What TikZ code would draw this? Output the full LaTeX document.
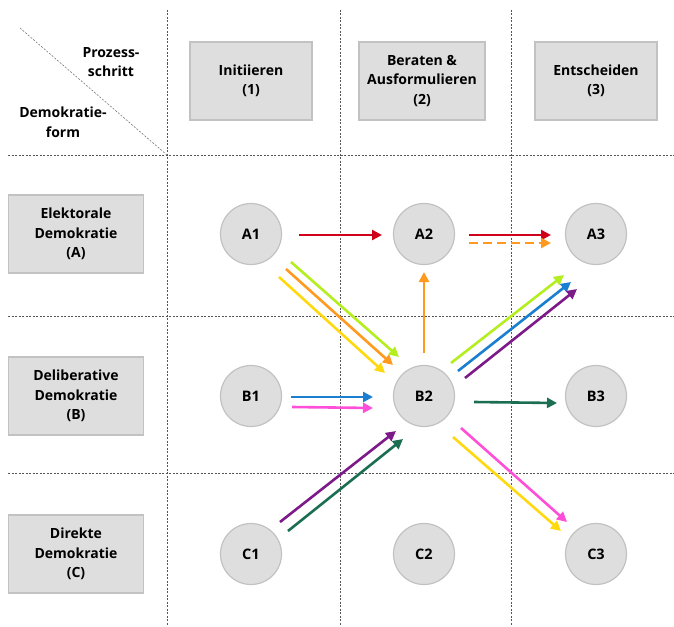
\documentclass[tikz,border=0pt]{standalone}
\usepackage{fontspec}
\setmainfont{Open Sans}
\usepackage{tikz}
\usetikzlibrary{positioning,arrows.meta,calc}
\definecolor{boxgray}{HTML}{DEDEDE}
\definecolor{edgegray}{HTML}{C2C2C2}
\definecolor{gridgray}{HTML}{555555}
\definecolor{flowred}{HTML}{D0021B}
\definecolor{floworange}{HTML}{FF9A1F}
\definecolor{flowlime}{HTML}{B4EE1F}
\definecolor{flowyellow}{HTML}{FFD90F}
\definecolor{flowblue}{HTML}{1A7FD0}
\definecolor{flowpurple}{HTML}{7D1A8A}
\definecolor{flowpink}{HTML}{FF4FD8}
\definecolor{flowgreen}{HTML}{1B6E52}
\tikzset{
  gridline/.style={gridgray, line width=0.6pt, dash pattern=on 2pt off 1.5pt},
  stagebox/.style={draw=edgegray, fill=boxgray, line width=1.2pt, minimum width=122pt,
    minimum height=78pt, align=center, font=\fontsize{14}{19.5}\selectfont\bfseries},
  formbox/.style={stagebox, minimum width=135pt},
  station/.style={circle, draw=edgegray, fill=boxgray, line width=1.2pt, minimum size=61pt,
    inner sep=0pt, font=\fontsize{14.5}{16}\selectfont\bfseries},
  flow/.style={line width=2.6pt, -{Triangle[length=10pt,width=10pt]}},
}
\begin{document}
\begin{tikzpicture}[x=1pt,y=-1pt]
  \useasboundingbox (0,0) rectangle (674,626);
  % Grid
  \foreach \x in {167,340,511}
    \draw[gridline] (\x,10) -- (\x,626);
  \foreach \y in {155,316,473}
    \draw[gridline] (8,\y) -- (674,\y);
  \draw[gridline, gridgray!80] (20,28) -- (167,155);
  % Corner labels
  \node[align=center, font=\fontsize{14}{19.5}\selectfont\bfseries] (prozess) at (111,62) {Prozess-\\schritt};
  \node[align=center, font=\fontsize{14}{19.5}\selectfont\bfseries] (demoform) at (63,122) {Demokratie-\\form};
  % Process steps
  \node[stagebox] (init) at (251,81) {Initiieren\\(1)};
  \node[stagebox, minimum width=126pt] (beraten) at (422,81) {Beraten \&\\Ausformulieren\\(2)};
  \node[stagebox] (entsch) at (596,81) {Entscheiden\\(3)};
  % Forms of democracy
  \node[formbox] (elekt) at (76,234) {Elektorale\\Demokratie\\(A)};
  \node[formbox] (delib) at (76,396) {Deliberative\\Demokratie\\(B)};
  \node[formbox] (direkt) at (76,554) {Direkte\\Demokratie\\(C)};
  % Stations
  \node[station] (A1) at (251,234) {A1};
  \node[station] (A2) at (424,234) {A2};
  \node[station] (A3) at (596,234) {A3};
  \node[station] (B1) at (251,396) {B1};
  \node[station] (B2) at (424,396) {B2};
  \node[station] (B3) at (596,396) {B3};
  \node[station] (C1) at (251,554) {C1};
  \node[station] (C2) at (424,554) {C2};
  \node[station] (C3) at (596,554) {C3};
  % Flows
  \draw[flow, flowred] ([shift={(48,1)}]A1.center) -- ([shift={(-42,1)}]A2.center);
  \draw[flow, flowred] ([shift={(45,1)}]A2.center) -- ([shift={(-45,1)}]A3.center);
  \draw[flow, floworange, dash pattern=on 9pt off 5pt] ([shift={(45,9)}]A2.center) -- ([shift={(-45,9)}]A3.center);
  \draw[flow, flowlime] ([shift={(40,28)}]A1.center) -- ([shift={(-25,-39)}]B2.center);
  \draw[flow, floworange] ([shift={(35,35)}]A1.center) -- ([shift={(-31,-31)}]B2.center);
  \draw[flow, flowyellow] ([shift={(28,43)}]A1.center) -- ([shift={(-39,-23)}]B2.center);
  \draw[flow, floworange] ([shift={(0,-43)}]B2.center) -- ([shift={(0,38)}]A2.center);
  \draw[flow, flowlime] ([shift={(27,-33)}]B2.center) -- ([shift={(-32,41)}]A3.center);
  \draw[flow, flowblue] ([shift={(34,-25)}]B2.center) -- ([shift={(-25,48)}]A3.center);
  \draw[flow, flowpurple] ([shift={(41,-18)}]B2.center) -- ([shift={(-19,55)}]A3.center);
  \draw[flow, flowblue] ([shift={(40,1)}]B1.center) -- ([shift={(-51,1)}]B2.center);
  \draw[flow, flowpink] ([shift={(41,11)}]B1.center) -- ([shift={(-51,12)}]B2.center);
  \draw[flow, flowgreen] ([shift={(50,6)}]B2.center) -- ([shift={(-39,7)}]B3.center);
  \draw[flow, flowpurple] ([shift={(29,-32)}]C1.center) -- ([shift={(-28,35)}]B2.center);
  \draw[flow, flowgreen] ([shift={(37,-23)}]C1.center) -- ([shift={(-21,43)}]B2.center);
  \draw[flow, flowpink] ([shift={(37,32)}]B2.center) -- ([shift={(-29,-32)}]C3.center);
  \draw[flow, flowyellow] ([shift={(29,41)}]B2.center) -- ([shift={(-35,-23)}]C3.center);
\end{tikzpicture}
\end{document}
